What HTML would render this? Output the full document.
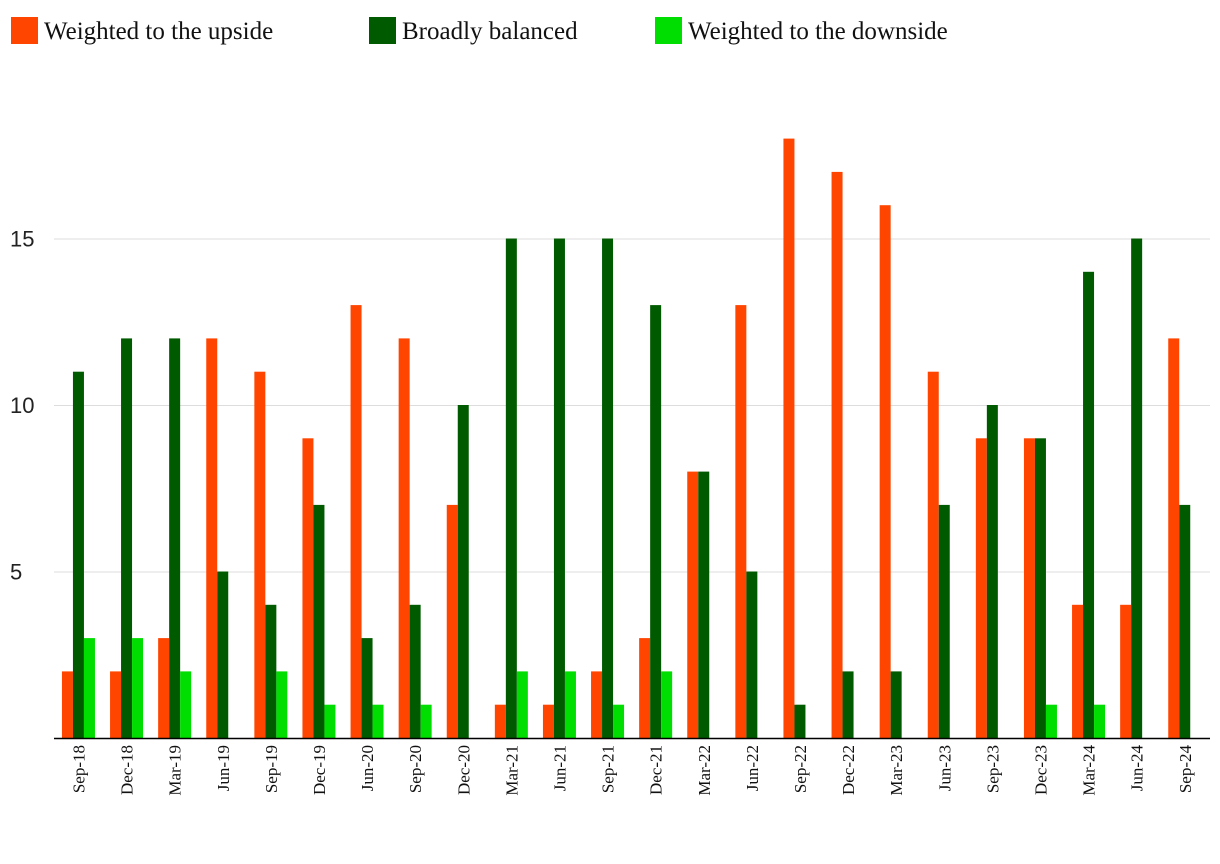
<!DOCTYPE html>
<html><head><meta charset="utf-8"><style>
body{margin:0;background:#fff;width:1220px;height:864px;overflow:hidden}
svg{display:block}
</style></head><body>
<svg id="chart" width="1220" height="864">
<g id="legend" font-family="Liberation Serif, serif" font-size="25" fill="#111">
<g><rect x="11" y="17" width="27" height="27" fill="#FF4500"/><text x="44" y="39">Weighted to the upside</text></g>
<g><rect x="369" y="17" width="27" height="27" fill="#005A00"/><text x="402" y="39">Broadly balanced</text></g>
<g><rect x="655" y="17" width="27" height="27" fill="#00DD00"/><text x="688" y="39">Weighted to the downside</text></g>
</g>
<g id="grid"></g><g id="bars"></g><g id="xlabels"></g>
<line x1="54" y1="738.5" x2="1210" y2="738.5" stroke="#000" stroke-width="1.5"/>
</svg>
<script>
const categories=["Sep-18","Dec-18","Mar-19","Jun-19","Sep-19","Dec-19","Jun-20","Sep-20","Dec-20","Mar-21","Jun-21","Sep-21","Dec-21","Mar-22","Jun-22","Sep-22","Dec-22","Mar-23","Jun-23","Sep-23","Dec-23","Mar-24","Jun-24","Sep-24"];
const upside=[2,2,3,12,11,9,13,12,7,1,1,2,3,8,13,18,17,16,11,9,9,4,4,12];
const balanced=[11,12,12,5,4,7,3,4,10,15,15,15,13,8,5,1,2,2,7,10,9,14,15,7];
const downside=[3,3,2,0,2,1,1,1,0,2,2,1,2,0,0,0,0,0,0,0,1,1,0,0];
const yTicks=[5,10,15];
const NS="http://www.w3.org/2000/svg";
const x0=54.4,band=48.1,bw=11;
const y=v=>738-v*33.3;
const xc=i=>x0+band*(i+0.5);
function mk(t,a,p){const e=document.createElementNS(NS,t);for(const k in a)e.setAttribute(k,a[k]);p.appendChild(e);return e;}
const grid=document.getElementById('grid');
yTicks.forEach(t=>{
 const l=mk('line',{x1:54,x2:1210,y1:y(t)+0.5,y2:y(t)+0.5,stroke:'#ddd','stroke-width':1},grid);
 
 
 const tx=mk('text',{x:10,y:y(t)+8,'font-family':'Liberation Sans, sans-serif','font-size':22,fill:'#222'},grid);
 tx.textContent=t;
 
 
});
const bars=document.getElementById('bars');
const series=[[upside,'#FF4500','upside'],[balanced,'#005A00','balanced'],[downside,'#00DD00','downside']];
categories.forEach((c,i)=>{
 series.forEach((s,j)=>{
  const v=s[0][i]; if(!v)return;
  const r=mk('rect',{x:xc(i)-1.5*bw+j*bw,y:y(v),width:bw,height:v*33.3,fill:s[1]},bars);
  
  
 });
 const t=mk('text',{transform:`translate(${xc(i)+6},745) rotate(-90)`,'text-anchor':'end','font-family':'Liberation Serif, serif','font-size':17,fill:'#111'},document.getElementById('xlabels'));
 t.textContent=c;
 
 
});
</script>
</body></html>
